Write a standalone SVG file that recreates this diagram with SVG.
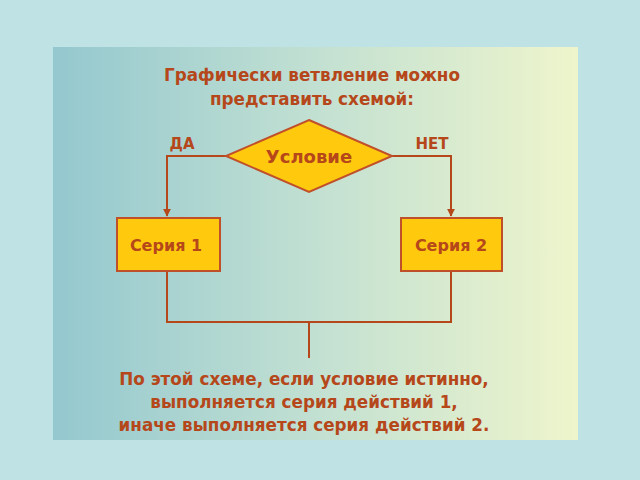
<svg xmlns="http://www.w3.org/2000/svg" width="640" height="480" viewBox="0 0 640 480">
<defs>
<linearGradient id="bg" x1="0" y1="0" x2="1" y2="0">
<stop offset="0" stop-color="#94c8cf"/><stop offset="0.5" stop-color="#c2e0d2"/><stop offset="1" stop-color="#eef5cc"/>
</linearGradient>
<marker id="ar" viewBox="0 0 10 10" refX="9" refY="5" markerWidth="4" markerHeight="4" orient="auto"><path d="M0,0L10,5L0,10z" fill="#b5471a"/></marker>
<style>
.t{font-family:"DejaVu Sans","Liberation Sans",sans-serif;font-weight:bold;fill:#b5471a;text-anchor:middle}
.s{fill:#ffc90e;stroke:#c0502a;stroke-width:2}
.c{fill:none;stroke:#b5471a;stroke-width:2}
</style>
</defs>
<rect width="640" height="480" fill="#bfe2e4"/>
<rect x="53" y="47" width="525" height="393" fill="url(#bg)"/>
<g id="title" class="t" font-size="16.8"><text x="312" y="81">Графически ветвление можно</text><text x="312" y="105">представить схемой:</text></g>
<g id="connectors" class="c">
<path d="M226,156H167V216" marker-end="url(#ar)"/>
<path d="M392,156H451V216" marker-end="url(#ar)"/>
<path d="M167,271V322H451V271M309,322V358"/>
</g>
<g id="cond"><path class="s" d="M309,120L392,156L309,192L226,156z"/><text class="t" x="309" y="163" font-size="18">Условие</text></g>
<g id="s1"><rect class="s" x="117" y="218" width="103" height="53"/><text class="t" x="166" y="251" font-size="16">Серия 1</text></g>
<g id="s2"><rect class="s" x="401" y="218" width="101" height="53"/><text class="t" x="451" y="251" font-size="16">Серия 2</text></g>
<g class="t" font-size="15"><text x="182" y="149">ДА</text><text x="432" y="149">НЕТ</text></g>
<g id="note" class="t" font-size="16.8"><text x="304" y="385">По этой схеме, если условие истинно,</text><text x="304" y="408">выполняется серия действий 1,</text><text x="304" y="431">иначе выполняется серия действий 2.</text></g>
</svg>
